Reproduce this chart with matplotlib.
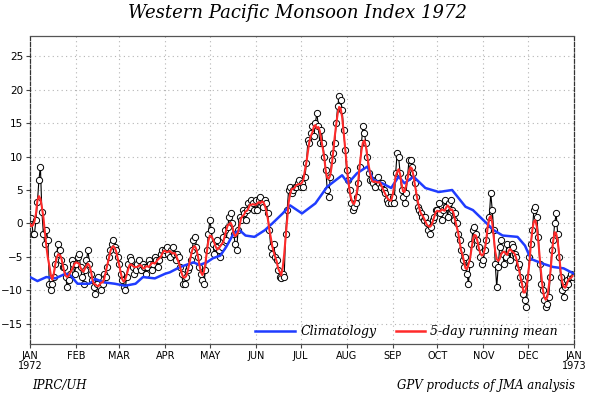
import numpy as np
import pandas as pd
import matplotlib
matplotlib.use('Agg')
import matplotlib.pyplot as plt

# daily WPMI values, one list per month
jan = [0.5, 0.8, -1.5, -1.5, 0.5, 3.2, 6.5, 8.5, 1.7, -1.5, -3.0, -1.0, -2.5, -9.0, -10.0,
       -9.0, -8.0, -6.0, -4.5, -3.0, -4.0, -5.5, -6.5, -6.5, -8.0, -9.5, -8.5, -7.5, -5.5, -6.0, -7.5]
feb = [-6.0, -5.0, -4.5, -6.5, -8.0, -9.0, -7.0, -5.5, -4.0, -6.0, -7.5, -8.5, -9.5, -10.5, -9.0,
       -8.0, -9.5, -10.0, -9.0, -7.5, -8.0, -6.5, -5.0, -4.0, -3.0, -2.5, -3.5, -4.0, -5.0]
mar = [-6.0, -7.5, -8.5, -9.5, -10.0, -8.0, -6.0, -5.0, -5.5, -6.5, -7.5, -7.0, -6.0, -5.5, -6.5,
       -7.0, -6.0, -6.5, -7.5, -6.5, -5.5, -6.0, -7.0, -6.0, -5.0, -5.5, -6.5, -5.5, -4.5, -4.0, -4.5]
apr = [-4.0, -3.5, -4.5, -5.0, -4.0, -3.5, -4.5, -5.5, -4.5, -5.0, -6.5, -7.5, -9.0, -9.0, -8.0,
       -7.0, -6.5, -5.5, -4.0, -2.5, -2.0, -3.5, -5.0, -6.5, -7.5, -8.5, -9.0, -7.0, -4.0, -1.5]
may = [0.5, -1.0, -3.0, -4.5, -3.5, -2.5, -4.0, -5.0, -3.5, -2.0, -1.0, -2.5, -0.5, 1.0, 1.5,
       0.0, -1.5, -3.0, -4.0, -1.0, 1.0, 0.5, 2.0, 1.5, 0.5, 2.0, 3.0, 2.5, 3.5, 3.0, 2.0]
jun = [3.5, 2.0, 3.5, 4.0, 3.0, 2.5, 3.5, 3.0, 1.5, -1.0, -3.5, -4.5, -3.0, -5.0, -5.5,
       -7.0, -8.0, -8.2, -7.5, -8.0, -1.5, 2.0, 5.0, 5.5, 4.5, 5.0, 5.5, 5.5, 6.0, 6.5]
jul = [5.5, 6.0, 5.5, 7.0, 9.0, 12.5, 12.0, 13.5, 14.5, 13.0, 15.0, 16.5, 14.5, 12.0, 14.0,
       12.0, 10.0, 8.0, 5.0, 4.0, 7.0, 9.5, 10.5, 12.0, 15.0, 17.5, 19.0, 18.5, 17.0, 14.0, 11.0]
aug = [8.0, 6.5, 5.0, 3.0, 2.0, 2.5, 3.0, 4.0, 6.0, 8.5, 12.0, 14.5, 13.5, 12.0, 10.0,
       7.5, 6.5, 6.5, 6.0, 5.5, 6.5, 7.0, 6.0, 5.5, 6.0, 5.0, 4.5, 3.5, 3.0, 4.0, 3.0]
sep = [4.0, 3.0, 7.5, 10.5, 10.0, 7.5, 5.0, 4.0, 3.0, 4.5, 7.0, 9.5, 9.5, 8.5, 7.5,
       6.0, 4.0, 2.5, 2.0, 1.5, 1.0, 0.5, 1.0, 0.0, -1.0, -1.5, -0.5, 0.5, 1.0, 2.0]
oct_ = [2.0, 3.0, 1.5, 0.5, 2.0, 3.5, 2.5, 1.0, 3.0, 3.5, 2.0, 0.5, 1.5, 0.0, -1.5,
        -2.5, -4.0, -5.5, -6.5, -5.0, -7.5, -9.0, -6.0, -3.0, -1.0, -0.5, -1.5, -2.5, -3.5, -5.0, -6.0]
nov = [-5.5, -4.0, -2.5, -1.0, 1.0, 4.5, 2.0, -1.0, -6.0, -9.5, -6.5, -3.5, -2.5, -4.5, -6.0,
       -5.0, -3.0, -4.0, -5.5, -3.0, -3.5, -4.5, -5.0, -6.5, -6.0, -8.0, -9.0, -10.5, -11.5, -12.5]
dec = [-8.0, -5.0, -3.0, -1.0, 2.0, 2.5, 1.0, -2.0, -6.0, -9.0, -10.0, -11.5, -12.5, -12.0, -11.0,
       -8.0, -4.0, -2.5, 0.0, 1.5, -1.5, -5.0, -8.0, -10.0, -11.0, -9.5, -8.5, -9.0, -8.0, -7.5, -8.0]

# climatology (day of year, value)
clim_day = [0, 5, 11, 17, 24, 27, 32, 40, 44, 50, 57, 64, 71, 76, 84, 91, 94, 101, 110, 114,
            119, 123, 128, 132, 137, 141, 145, 151, 158, 163, 170, 175, 183, 192, 200, 210,
            214, 220, 227, 231, 237, 243, 248, 252, 258, 266, 275, 284, 293, 298, 305, 312,
            318, 328, 333, 337, 345, 352, 359, 366]
clim_val = [-8.0, -8.6, -8.0, -8.2, -7.5, -7.7, -9.0, -9.0, -8.3, -8.8, -9.0, -9.3, -9.0, -8.0,
            -8.2, -7.5, -7.3, -6.5, -5.8, -6.2, -5.8, -5.2, -4.8, -3.5, -1.5, -1.0, -1.8, -2.0,
            -1.0, 0.0, 1.5, 2.7, 1.5, 3.0, 5.5, 7.2, 6.0, 7.5, 8.5, 6.5, 6.0, 5.3, 7.0, 6.0,
            7.0, 5.3, 4.7, 5.0, 2.5, 2.0, 0.5, -1.0, -1.8, -2.0, -3.3, -5.3, -6.0, -6.5, -6.7, -7.5]

month_lbl = ['JAN\n1972', 'FEB', 'MAR', 'APR', 'MAY', 'JUN', 'JUL', 'AUG', 'SEP', 'OCT',
             'NOV', 'DEC', 'JAN\n1973']
month_len = [31, 29, 31, 30, 31, 30, 31, 31, 30, 31, 30, 31]

obs = np.array(jan + feb + mar + apr + may + jun + jul + aug + sep + oct_ + nov + dec)
days = np.arange(len(obs))
run5 = pd.Series(obs).rolling(5, center=True, min_periods=1).mean()
month_start = np.concatenate([[0], np.cumsum(month_len)])

fig = plt.figure(figsize=(6.05, 4.03), dpi=100)
ax = fig.add_axes([30/605, 59/403, 544/605, 308/403])

for yv in range(-15, 30, 5):
    ax.axhline(yv, color='#b4b4b4', lw=0.8, ls=(0, (1, 3)), zorder=1)
for xv in month_start[1:-1]:
    ax.axvline(xv, color='#b4b4b4', lw=0.8, ls=(0, (1, 3)), zorder=1)

ax.plot(days, obs, '-o', color='black', lw=0.8, ms=4.5, mfc='white', mec='black',
        mew=0.7, zorder=2)
ax.plot(clim_day, clim_val, color='#1f3cff', lw=1.8, zorder=3)
ax.plot(days, run5, color='#ff2a2a', lw=1.5, zorder=4)

ax.set_xlim(0, 366)
ax.set_ylim(-18, 28)
ax.set_xticks(month_start)
ax.set_xticklabels(month_lbl, fontsize=7, linespacing=0.95)
ax.set_yticks(range(-15, 30, 5))
ax.set_yticklabels([str(v).replace('-', '\u2212') for v in range(-15, 30, 5)], fontsize=7.5)
ax.tick_params(axis='both', length=3, width=0.8, color='#444444', pad=2)

for side in ['left', 'right']:
    ax.spines[side].set_linestyle((0, (3, 1.5)))
    ax.spines[side].set_color('#333333')
for side in ['top', 'bottom']:
    ax.spines[side].set_color('#555555')
for sp in ax.spines.values():
    sp.set_linewidth(0.9)

# legend drawn by hand at the bottom of the plot
ax.plot([0.414, 0.487], [0.042, 0.042], transform=ax.transAxes, color='#1f3cff', lw=1.8)
ax.text(0.497, 0.042, 'Climatology', transform=ax.transAxes, va='center', ha='left',
        fontsize=9, family='DejaVu Serif', style='italic')
ax.plot([0.672, 0.727], [0.042, 0.042], transform=ax.transAxes, color='#ff2a2a', lw=1.8)
ax.text(0.736, 0.042, '5-day running mean', transform=ax.transAxes, va='center', ha='left',
        fontsize=9, family='DejaVu Serif', style='italic')

fig.text(298/605, 1 - 13/403, 'Western Pacific Monsoon Index 1972', ha='center', va='center',
         fontsize=13, family='DejaVu Serif', style='italic')
fig.text(32/605, 1 - 386/403, 'IPRC/UH', ha='left', va='center',
         fontsize=8.5, family='DejaVu Serif', style='italic')
fig.text(575/605, 1 - 386/403, 'GPV products of JMA analysis', ha='right', va='center',
         fontsize=8.5, family='DejaVu Serif', style='italic')

fig.savefig('out.png', dpi=100)
